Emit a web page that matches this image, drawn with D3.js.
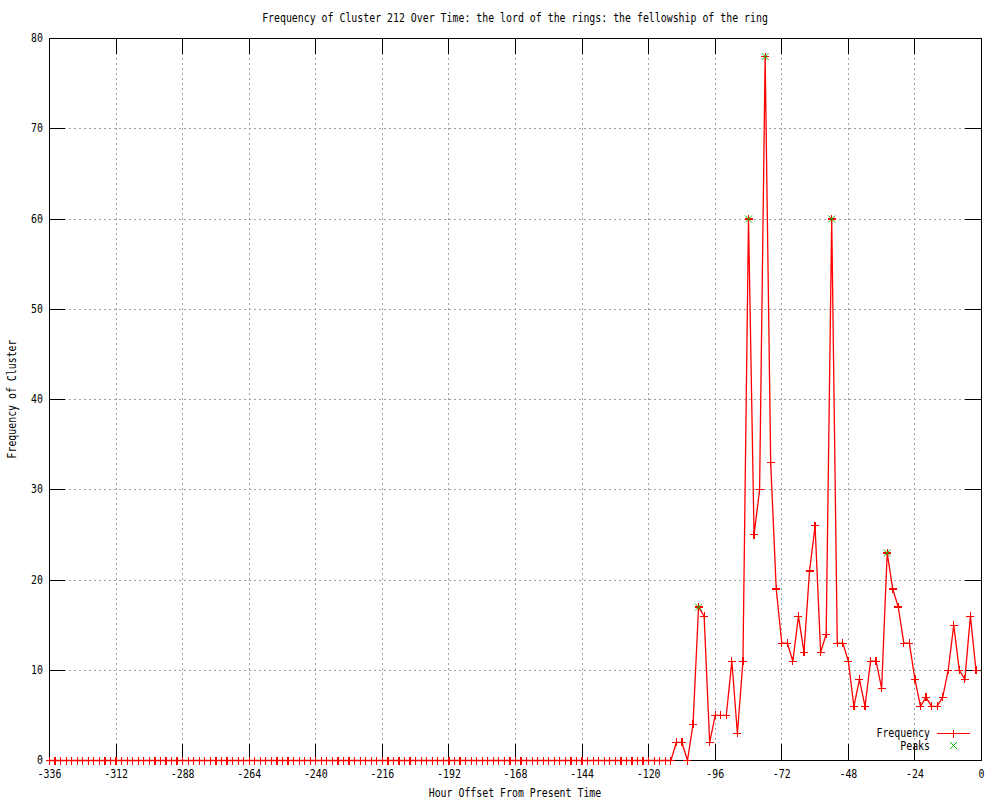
<!DOCTYPE html>
<html>
<head>
<meta charset="utf-8">
<script src="https://cdn.jsdelivr.net/npm/d3@7"></script>
<style>
  html, body { margin: 0; padding: 0; background: #fff; }
  svg { display: block; }
  text { font-family: "DejaVu Sans Mono", "Liberation Mono", monospace; font-size: 12px; fill: #000; }
</style>
</head>
<body>
<svg id="chart" width="1000" height="800"></svg>
<script>
// ---- data ----
const titleText = "Frequency of Cluster 212 Over Time: the lord of the rings: the fellowship of the ring";
const xLabel = "Hour Offset From Present Time";
const yLabel = "Frequency of Cluster";
const hours = d3.range(-336, 0, 2); // hourly offsets, one sample every 2 hours
const freq = [
  0,0,0,0,0,0,0,0,0,0,0,0,0,0,0,0,0,0,0,0,
  0,0,0,0,0,0,0,0,0,0,0,0,0,0,0,0,0,0,0,0,
  0,0,0,0,0,0,0,0,0,0,0,0,0,0,0,0,0,0,0,0,
  0,0,0,0,0,0,0,0,0,0,0,0,0,0,0,0,0,0,0,0,
  0,0,0,0,0,0,0,0,0,0,0,0,0,0,0,0,0,0,0,0,
  0,0,0,0,0,0,0,0,0,0,0,0,0,
  2,2,0,4,17,16,2,5,5,5,11,3,11,60,25,30,78,33,19,13,
  13,11,16,12,21,26,12,14,60,13,13,11,6,9,6,11,11,8,23,19,
  17,13,13,9,6,7,6,6,7,10,15,10,9,16,10
];
const peakHours = [-102, -84, -78, -54, -34];
const peakValues = [17, 60, 78, 60, 23];
const xTicks = [-336,-312,-288,-264,-240,-216,-192,-168,-144,-120,-96,-72,-48,-24,0];
const yTicks = [0,10,20,30,40,50,60,70,80];
const legendNames = ["Frequency", "Peaks"];

// ---- layout ----
const L = 49, R = 981, T = 38, B = 760;
const CW = 5.95; // glyph advance
const svg = d3.select("#chart");
const x = d3.scaleLinear().domain([-336, 0]).range([L, R]);
const y = d3.scaleLinear().domain([0, 80]).range([B, T]);

function fit(sel) {
  sel.each(function() {
    const t = d3.select(this);
    const s = t.text();
    if (s.length) t.attr("textLength", s.length * CW).attr("lengthAdjust", "spacingAndGlyphs");
  });
}

// grid
const grid = svg.append("g").attr("stroke", "#a0a0a0").attr("stroke-width", 1)
  .attr("stroke-dasharray", "2,3").attr("shape-rendering", "crispEdges");
grid.selectAll(".gx").data(xTicks.filter(d => d > -336 && d < 0)).enter().append("line")
  .attr("x1", d => x(d) + 0.5).attr("x2", d => x(d) + 0.5).attr("y1", B).attr("y2", T);
grid.selectAll(".gy").data(yTicks.filter(d => d > 0 && d < 80)).enter().append("line")
  .attr("y1", d => y(d) + 0.5).attr("y2", d => y(d) + 0.5).attr("x1", L).attr("x2", R);

// axes (ticks inward, mirrored)
const fmt = d => String(d);
const gb = svg.append("g").attr("transform", `translate(0,${B})`)
  .call(d3.axisBottom(x).tickValues(xTicks).tickSize(-16).tickPadding(9).tickFormat(fmt));
const gt = svg.append("g").attr("transform", `translate(0,${T})`)
  .call(d3.axisTop(x).tickValues(xTicks).tickSize(-16).tickFormat(""));
const gl = svg.append("g").attr("transform", `translate(${L},0)`)
  .call(d3.axisLeft(y).tickValues(yTicks).tickSize(-16).tickPadding(6).tickFormat(fmt));
const gr = svg.append("g").attr("transform", `translate(${R},0)`)
  .call(d3.axisRight(y).tickValues(yTicks).tickSize(-16).tickFormat(""));
[gb, gt, gl, gr].forEach(g => {
  g.select(".domain").remove();
  g.selectAll("line").attr("stroke", "#000").attr("shape-rendering", "crispEdges");
  g.selectAll("text").attr("font-family", null).attr("font-size", null).attr("fill", "#000").call(fit);
  g.attr("font-family", null).attr("font-size", null);
});
gl.selectAll("text").attr("dy", "0.3em");

// border
svg.append("rect").attr("x", L + 0.5).attr("y", T + 0.5).attr("width", R - L).attr("height", B - T)
  .attr("fill", "none").attr("stroke", "#000").attr("stroke-width", 1).attr("shape-rendering", "crispEdges");

// data line
const pts = hours.map((h, i) => [h, freq[i]]);
svg.append("path").datum(pts)
  .attr("d", d3.line().x(d => x(d[0]) + 0.5).y(d => y(d[1]) + 0.5))
  .attr("fill", "none").attr("stroke", "#ff0000").attr("stroke-width", 1.3);

// plus markers
const P = 4;
function plus(g, cx, cy, color) {
  g.append("path").attr("d", `M${cx - P},${cy}H${cx + P}M${cx},${cy - P}V${cy + P}`)
    .attr("stroke", color).attr("stroke-width", 1.2).attr("fill", "none").attr("shape-rendering", "crispEdges");
}
const X = 3.5;
function cross(g, cx, cy, color) {
  g.append("path").attr("d", `M${cx - X},${cy - X}L${cx + X},${cy + X}M${cx - X},${cy + X}L${cx + X},${cy - X}`)
    .attr("stroke", color).attr("stroke-width", 1).attr("fill", "none");
}
const gm = svg.append("g");
pts.forEach(d => plus(gm, x(d[0]) + 0.5, y(d[1]) + 0.5, "#ff0000"));
const gp = svg.append("g");
peakHours.forEach((h, i) => cross(gp, x(h) + 0.5, y(peakValues[i]) + 0.5, "#00c000"));

// legend
const lg = svg.append("g");
lg.append("text").attr("x", 930).attr("y", 737).attr("text-anchor", "end").text(legendNames[0]).call(fit);
lg.append("text").attr("x", 930).attr("y", 750).attr("text-anchor", "end").text(legendNames[1]).call(fit);
lg.append("line").attr("x1", 937).attr("x2", 970).attr("y1", 733.5).attr("y2", 733.5)
  .attr("stroke", "#ff0000").attr("stroke-width", 1.2).attr("shape-rendering", "crispEdges");
plus(lg, 953.5, 733.5, "#ff0000");
cross(lg, 953.5, 745.5, "#00c000");

// titles
svg.append("text").attr("x", 515).attr("y", 22).attr("text-anchor", "middle").text(titleText).call(fit);
svg.append("text").attr("x", 515).attr("y", 797).attr("text-anchor", "middle").text(xLabel).call(fit);
svg.append("text").attr("transform", `translate(16,${(T + B) / 2}) rotate(-90)`)
  .attr("text-anchor", "middle").text(yLabel).call(fit);
</script>
</body>
</html>
